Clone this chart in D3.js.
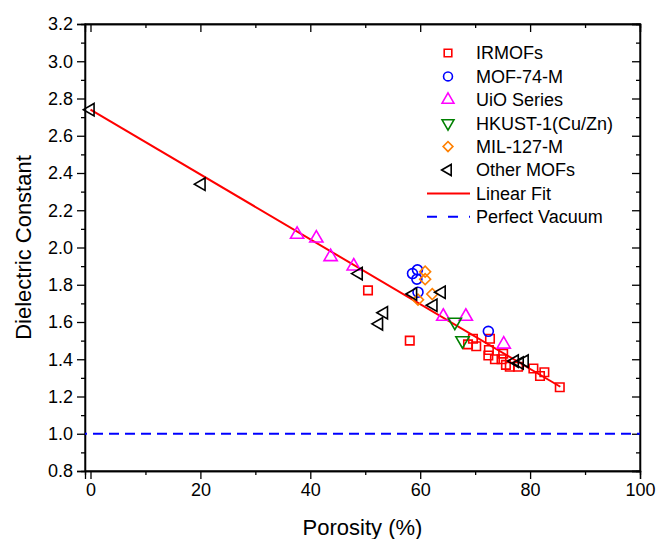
<!DOCTYPE html>
<html lang="en">
<head>
<meta charset="utf-8">
<title>Dielectric constant vs porosity</title>
<script src="https://d3js.org/d3.v7.min.js"></script>
<style>
  body { margin: 0; background: #fff; }
  text { font-family: "Liberation Sans", Arial, sans-serif; fill: #000; }
  .axis path, .axis line { stroke: #000; stroke-width: 1.3; }
</style>
</head>
<body>
<div id="chart"></div>
<script>
// data: [porosity %, dielectric constant]
var irmofs = [[50.5,1.77],[58.1,1.50],[68.7,1.48],[69.6,1.51],[70.2,1.47],[72.7,1.51],[72.5,1.45],
  [72.4,1.42],[73.6,1.40],[75.1,1.43],[74.8,1.40],[75.6,1.37],[76.3,1.36],[77.8,1.36],
  [80.6,1.35],[82.6,1.33],[81.8,1.31],[85.4,1.25]];
var mof74 = [[58.6,1.86],[59.5,1.88],[59.4,1.83],[59.6,1.76],[72.4,1.55]];
var uio = [[37.6,2.07],[41.1,2.05],[43.7,1.95],[47.9,1.90],[64.2,1.63],[68.3,1.63],[75.2,1.48]];
var hkust = [[66.3,1.60],[67.7,1.50]];
var mil127 = [[60.9,1.87],[60.9,1.83],[62.2,1.75],[59.6,1.72]];
var otherMofs = [[0,2.74],[20.2,2.34],[48.8,1.86],[53.4,1.65],[52.5,1.59],[58.7,1.75],[63.9,1.76],
  [62.4,1.69],[77.2,1.39],[78.1,1.38],[79.0,1.39]];

var fitIntercept = 2.74, fitSlope = -0.0174, fitRange = [0, 85.5];
var vacuum = 1.0;

var xTicks = [0, 20, 40, 60, 80, 100];
var yTicks = [0.8, 1.0, 1.2, 1.4, 1.6, 1.8, 2.0, 2.2, 2.4, 2.6, 2.8, 3.0, 3.2];

var series = [
  {name: "IRMOFs", data: irmofs, color: "#ff0000", shape: d3.symbolSquare, rot: 0, size: 72},
  {name: "MOF-74-M", data: mof74, color: "#0000ff", shape: d3.symbolCircle, rot: 0, size: 78},
  {name: "UiO Series", data: uio, color: "#ff00ff", shape: d3.symbolTriangle, rot: 0, size: 76},
  {name: "HKUST-1(Cu/Zn)", data: hkust, color: "#008000", shape: d3.symbolTriangle, rot: 180, size: 76},
  {name: "MIL-127-M", data: mil127, color: "#ff8000", shape: d3.symbolSquare, rot: 45, size: 60},
  {name: "Other MOFs", data: otherMofs, color: "#000000", shape: d3.symbolTriangle, rot: -90, size: 66}
];

var w = 657, h = 539;
var margin = {left: 85, right: 17, top: 24, bottom: 68};

var svg = d3.select("#chart").append("svg")
  .attr("width", w).attr("height", h);

var x = d3.scaleLinear().domain([-1, 100]).range([margin.left, w - margin.right]);
var y = d3.scaleLinear().domain([0.8, 3.2]).range([h - margin.bottom, margin.top]);

var x0 = margin.left, x1 = w - margin.right, y0 = h - margin.bottom, y1 = margin.top;

// minor ticks
var xMinor = d3.range(10, 100, 20);
var yMinor = d3.range(0.9, 3.2, 0.2);

svg.append("g").attr("class", "axis").attr("transform", "translate(0," + y0 + ")")
  .call(d3.axisBottom(x).tickValues(xMinor).tickSize(4).tickFormat(""));
svg.append("g").attr("class", "axis").attr("transform", "translate(0," + y1 + ")")
  .call(d3.axisTop(x).tickValues(xMinor).tickSize(-4).tickFormat(""));
svg.append("g").attr("class", "axis").attr("transform", "translate(" + x0 + ",0)")
  .call(d3.axisLeft(y).tickValues(yMinor).tickSize(4).tickFormat(""));
svg.append("g").attr("class", "axis").attr("transform", "translate(" + x1 + ",0)")
  .call(d3.axisRight(y).tickValues(yMinor).tickSize(-4).tickFormat(""));

// major ticks
svg.append("g").attr("class", "axis").attr("transform", "translate(0," + y0 + ")")
  .call(d3.axisBottom(x).tickValues(xTicks).tickSize(8).tickPadding(4).tickFormat(d3.format("d")));
svg.append("g").attr("class", "axis").attr("transform", "translate(0," + y1 + ")")
  .call(d3.axisTop(x).tickValues(xTicks).tickSize(-8).tickFormat(""));
svg.append("g").attr("class", "axis").attr("transform", "translate(" + x0 + ",0)")
  .call(d3.axisLeft(y).tickValues(yTicks).tickSize(8).tickPadding(4).tickFormat(d3.format(".1f")));
svg.append("g").attr("class", "axis").attr("transform", "translate(" + x1 + ",0)")
  .call(d3.axisRight(y).tickValues(yTicks).tickSize(-8).tickFormat(""));

svg.selectAll(".axis text").style("font-size", "18px").style("font-family", "Liberation Sans, Arial, sans-serif");

// frame
svg.append("rect").attr("x", x0).attr("y", y1).attr("width", x1 - x0).attr("height", y0 - y1)
  .attr("fill", "none").attr("stroke", "#000").attr("stroke-width", 1.3);

// axis titles
svg.append("text").attr("x", (x0 + x1) / 2).attr("y", 535)
  .attr("text-anchor", "middle").style("font-size", "22px").text("Porosity (%)");
svg.append("text").attr("transform", "translate(31," + ((y0 + y1) / 2) + ") rotate(-90)")
  .attr("text-anchor", "middle").style("font-size", "22px").text("Dielectric Constant");

var plot = svg.append("g");

// perfect vacuum line
plot.append("line").attr("x1", x(-1)).attr("x2", x(100)).attr("y1", y(vacuum)).attr("y2", y(vacuum))
  .attr("stroke", "#0000ff").attr("stroke-width", 2).attr("stroke-dasharray", "10,6")
  .attr("stroke-dashoffset", 8);

// linear fit
var line = d3.line().x(function(d) { return x(d); }).y(function(d) { return y(fitIntercept + fitSlope * d); });
plot.append("path").datum(fitRange).attr("d", line)
  .attr("fill", "none").attr("stroke", "#ff0000").attr("stroke-width", 2);

// markers
series.forEach(function(s) {
  var sym = d3.symbol().type(s.shape).size(s.size);
  plot.append("g").selectAll("path").data(s.data).enter().append("path")
    .attr("d", sym)
    .attr("transform", function(d) { return "translate(" + x(d[0]) + "," + y(d[1]) + ") rotate(" + s.rot + ")"; })
    .attr("fill", "none").attr("stroke", s.color).attr("stroke-width", 1.6);
});

// legend
var lg = svg.append("g");
var lx = 448, ly = 53, dy = 23.4;
series.forEach(function(s, i) {
  var sym = d3.symbol().type(s.shape).size(s.size * 0.8);
  lg.append("path").attr("d", sym)
    .attr("transform", "translate(" + lx + "," + (ly + i * dy) + ") rotate(" + s.rot + ")")
    .attr("fill", "none").attr("stroke", s.color).attr("stroke-width", 1.6);
  lg.append("text").attr("x", 476).attr("y", ly + i * dy).attr("dy", "0.35em")
    .style("font-size", "18px").text(s.name);
});
var fy = ly + 6 * dy;
lg.append("line").attr("x1", 427).attr("x2", 470).attr("y1", fy).attr("y2", fy)
  .attr("stroke", "#ff0000").attr("stroke-width", 2);
lg.append("text").attr("x", 476).attr("y", fy).attr("dy", "0.35em").style("font-size", "18px").text("Linear Fit");
var vy = ly + 7 * dy;
lg.append("line").attr("x1", 427).attr("x2", 470).attr("y1", vy).attr("y2", vy)
  .attr("stroke", "#0000ff").attr("stroke-width", 2).attr("stroke-dasharray", "10,11");
lg.append("text").attr("x", 476).attr("y", vy).attr("dy", "0.35em").style("font-size", "18px").text("Perfect Vacuum");
</script>
</body>
</html>
